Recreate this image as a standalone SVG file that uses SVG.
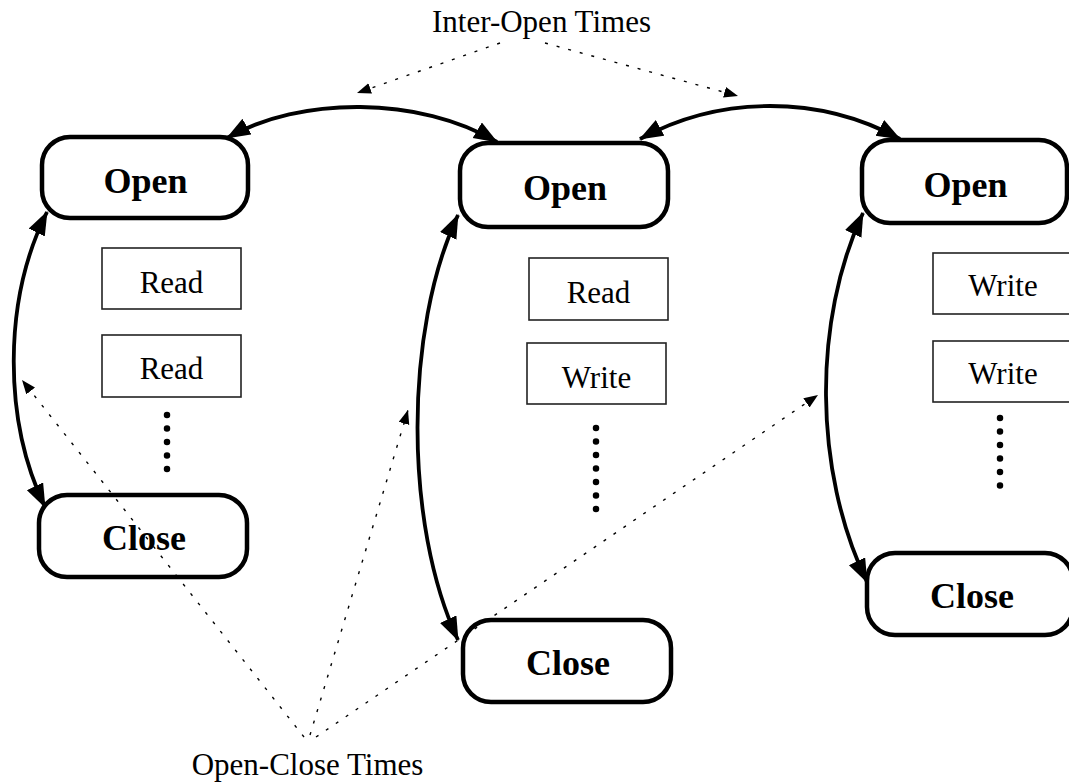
<svg xmlns="http://www.w3.org/2000/svg" width="1069" height="782" viewBox="0 0 1069 782">
<style>
.term{fill:none;stroke:#000;stroke-width:4.5}
.op{fill:#fff;stroke:#222;stroke-width:1.6}
.bt{font-family:"Liberation Serif","Times New Roman",serif;font-weight:bold;font-size:36px;text-anchor:middle;fill:#000}
.rt{font-family:"Liberation Serif","Times New Roman",serif;font-size:31px;text-anchor:middle;fill:#000}
.dots{fill:none;stroke:#000;stroke-width:6.5;stroke-linecap:round;stroke-dasharray:0 13.5}
.arc{fill:none;stroke:#000;stroke-width:3.8;marker-start:url(#ah);marker-end:url(#ah)}
.dl{fill:none;stroke:#000;stroke-width:1.4;stroke-dasharray:3 9}
.dla{marker-end:url(#sh)}
</style>
<defs>
<marker id="ah" markerUnits="userSpaceOnUse" markerWidth="26" markerHeight="20" refX="23" refY="9" orient="auto-start-reverse" viewBox="0 0 26 20">
<path d="M0,0 L24,9 L0,18 z" fill="#000"/>
</marker>
<marker id="sh" markerUnits="userSpaceOnUse" markerWidth="16" markerHeight="12" refX="14" refY="5.5" orient="auto" viewBox="0 0 16 12">
<path d="M0,0 L14,5.5 L0,11 z" fill="#000"/>
</marker>
</defs>

<g id="open1"><rect class="term" x="42" y="137" width="206" height="81" rx="28"/><text class="bt" x="145.5" y="193">Open</text></g>
<g id="open2"><rect class="term" x="460" y="143" width="208" height="84" rx="28"/><text class="bt" x="565" y="200">Open</text></g>
<g id="open3"><rect class="term" x="862" y="140" width="205" height="83" rx="28"/><text class="bt" x="965.5" y="197">Open</text></g>

<g id="close1"><rect class="term" x="39" y="495" width="208" height="82" rx="28"/><text class="bt" x="144" y="550">Close</text></g>
<g id="close2"><rect class="term" x="463" y="620" width="208" height="82" rx="28"/><text class="bt" x="568" y="675">Close</text></g>
<g id="close3"><rect class="term" x="867" y="553" width="206" height="82" rx="28"/><text class="bt" x="972" y="608">Close</text></g>

<g id="read1"><rect class="op" x="102" y="248" width="139" height="61"/><text class="rt" x="171.5" y="293">Read</text></g>
<g id="read2"><rect class="op" x="102" y="335" width="139" height="62"/><text class="rt" x="171.5" y="379">Read</text></g>
<g id="read3"><rect class="op" x="529" y="258" width="139" height="62"/><text class="rt" x="598.5" y="303">Read</text></g>
<g id="write1"><rect class="op" x="527" y="343" width="139" height="61"/><text class="rt" x="596.5" y="388">Write</text></g>
<g id="write2"><rect class="op" x="933" y="253" width="140" height="61"/><text class="rt" x="1003" y="296">Write</text></g>
<g id="write3"><rect class="op" x="933" y="341" width="140" height="61"/><text class="rt" x="1003" y="384">Write</text></g>

<g id="ellipsis">
<path class="dots" d="M167,415 L167,470"/>
<path class="dots" d="M596,428 L596,522"/>
<path class="dots" d="M1000,418 L1000,486"/>
</g>

<g id="labels">
<text class="rt" x="541.5" y="32">Inter-Open Times</text>
<text class="rt" x="307.5" y="775">Open-Close Times</text>
</g>

<g id="connectors">
<path class="arc" d="M47,212 C3,300 3,420 45,507"/>
<path class="arc" d="M458,215 C404,330 404,525 458,640"/>
<path class="arc" d="M863,213 C813,320 813,470 867,582"/>
<path class="arc" d="M227,138 C300,96 420,96 497,142"/>
<path class="arc" d="M640,139 C720,95 820,95 900,139"/>
<path class="dl dla" d="M500,43 L357,93"/>
<path class="dl dla" d="M545,43 L738,96"/>
<path class="dl dla" d="M304,737 L22,380"/>
<path class="dl dla" d="M310,735 L408,410"/>
<path class="dl dla" d="M316,737 L818,395"/>
</g>
</svg>
